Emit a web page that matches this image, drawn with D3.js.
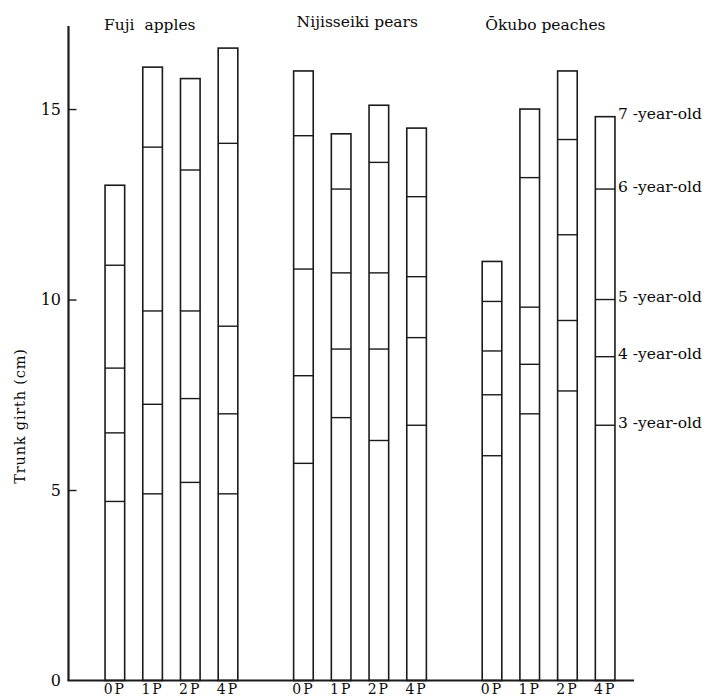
<!DOCTYPE html>
<html>
<head>
<meta charset="utf-8">
<script src="https://cdn.jsdelivr.net/npm/d3@7"></script>
<style>
  html, body { margin: 0; padding: 0; background: #fff; }
  svg { display: block; }
  text { font-family: "DejaVu Serif", "Liberation Serif", serif; fill: #0a0a0a; white-space: pre; }
</style>
</head>
<body>
<svg id="chart" width="709" height="698"></svg>
<script>
// ---- data ----
const groups = ["Fuji  apples", "Nijisseiki pears", "Ōkubo peaches"];
const treatments = ["0P", "1P", "2P", "4P"];
const ages = ["3 -year-old", "4 -year-old", "5 -year-old", "6 -year-old", "7 -year-old"];
const yTicks = [0, 5, 10, 15];
// trunk girth (cm) at age 3..7, per treatment
const fujiGirth = [
  [4.7, 6.5, 8.2, 10.9, 13.0],
  [4.9, 7.25, 9.7, 14.0, 16.1],
  [5.2, 7.4, 9.7, 13.4, 15.8],
  [4.9, 7.0, 9.3, 14.1, 16.6]
];
const nijisseikiGirth = [
  [5.7, 8.0, 10.8, 14.3, 16.0],
  [6.9, 8.7, 10.7, 12.9, 14.35],
  [6.3, 8.7, 10.7, 13.6, 15.1],
  [6.7, 9.0, 10.6, 12.7, 14.5]
];
const okuboGirth = [
  [5.9, 7.5, 8.65, 9.95, 11.0],
  [7.0, 8.3, 9.8, 13.2, 15.0],
  [7.6, 9.45, 11.7, 14.2, 16.0],
  [6.7, 8.5, 10.0, 12.9, 14.8]
];
const girthByGroup = [fujiGirth, nijisseikiGirth, okuboGirth];

// ---- layout ----
const svg = d3.select("#chart");
const axisX = 68.5, baseY = 680.5;

const y = d3.scaleLinear().domain([0, 17.18]).range([baseY, 26]);
const xGroup = d3.scaleBand().domain(groups).range([96, 624]).paddingInner(0.2).paddingOuter(0);
const xTreat = d3.scaleBand().domain(treatments).range([0, xGroup.bandwidth()])
  .paddingInner(0.48).paddingOuter(0.24);

const ink = "#1a1a1a";

// Y axis
const yAxis = d3.axisRight(y).tickValues(yTicks.slice(1)).tickSize(8).tickFormat("");
const ya = svg.append("g").attr("transform", `translate(${axisX},0)`).call(yAxis);
ya.select(".domain").remove();
ya.selectAll(".tick line").attr("stroke", ink).attr("stroke-width", 1.4);
svg.append("line").attr("x1", axisX).attr("x2", axisX).attr("y1", y.range()[1]).attr("y2", baseY)
  .attr("stroke", ink).attr("stroke-width", 2.2);
svg.selectAll("text.ytick").data(yTicks).join("text")
  .attr("class", "ytick")
  .attr("x", 61).attr("y", d => y(d)).attr("dy", "0.36em")
  .attr("text-anchor", "end").attr("font-size", 16).text(d => d);

// X baseline
svg.append("line").attr("x1", axisX - 1).attr("x2", 634).attr("y1", baseY).attr("y2", baseY)
  .attr("stroke", ink).attr("stroke-width", 2);

// Y axis title
svg.append("text")
  .attr("transform", `translate(25,416) rotate(-90)`)
  .attr("text-anchor", "middle").attr("font-size", 14.5).attr("letter-spacing", 0.8)
  .text("Trunk girth (cm)");

// bars
groups.forEach((g, gi) => {
  const gx = xGroup(g);
  const gEl = svg.append("g").attr("transform", `translate(${gx},0)`);
  // group title
  svg.append("text")
    .attr("x", gx + xTreat(treatments[0]) + (gi === 0 ? -1 : 3))
    .attr("y", gi === 1 ? 27 : 30)
    .attr("font-size", 15.5).text(g);

  treatments.forEach((t, ti) => {
    const vals = girthByGroup[gi][ti];
    const bx = xTreat(t), bw = xTreat.bandwidth();
    const top = d3.max(vals);
    gEl.append("rect")
      .attr("x", bx).attr("y", y(top)).attr("width", bw).attr("height", baseY - y(top))
      .attr("fill", "none").attr("stroke", ink).attr("stroke-width", 1.6);
    gEl.selectAll(null).data(vals.slice(0, -1)).join("line")
      .attr("x1", bx).attr("x2", bx + bw)
      .attr("y1", d => y(d)).attr("y2", d => y(d))
      .attr("stroke", ink).attr("stroke-width", 1.4);
    // x tick label
    svg.append("text")
      .attr("x", gx + bx + bw / 2).attr("y", 694)
      .attr("text-anchor", "middle").attr("font-size", 14).attr("letter-spacing", 2)
      .text(t);
  });
});

// age labels to the right of last bar of last group
const lastG = groups[groups.length - 1];
const lastT = treatments[treatments.length - 1];
const lastVals = girthByGroup[groups.length - 1][treatments.length - 1];
const labelX = xGroup(lastG) + xTreat(lastT) + xTreat.bandwidth() + 3;
svg.selectAll("text.age").data(ages).join("text")
  .attr("class", "age")
  .attr("x", labelX).attr("y", (d, i) => y(lastVals[i]) - 3).attr("dy", "0.36em")
  .attr("font-size", 15.5).text(d => d);
</script>
</body>
</html>
